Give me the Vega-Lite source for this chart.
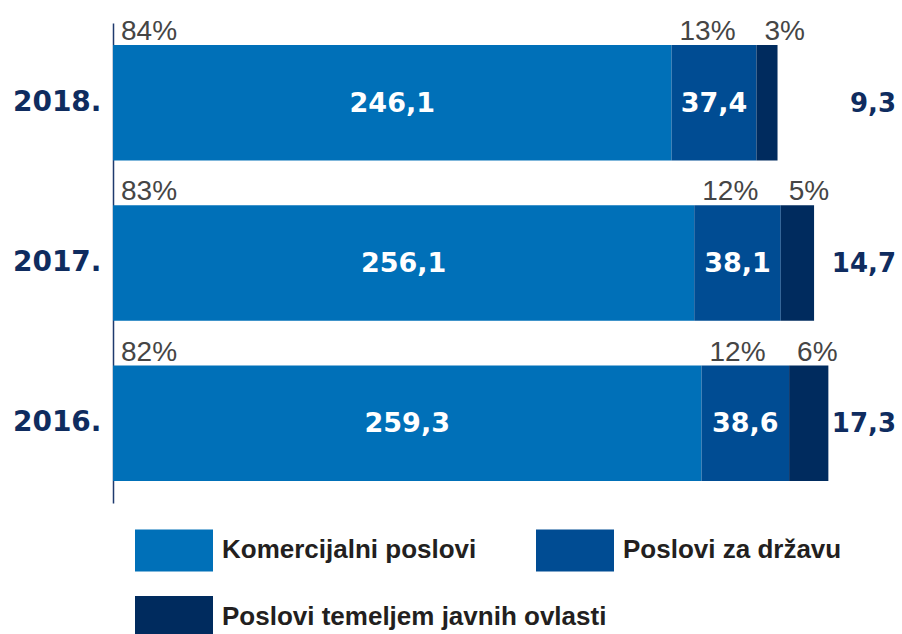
{
  "$schema": "https://vega.github.io/schema/vega-lite/v6.json",
  "width": 783,
  "height": 480,
  "autosize": {"type": "none"},
  "padding": {"left": 113, "top": 23, "right": 6, "bottom": 131},
  "background": "white",
  "config": {
    "view": {"stroke": null},
    "locale": {"number": {"decimal": ",", "thousands": ".", "grouping": [3], "currency": ["", " €"]}},
    "legend": {
      "title": null,
      "orient": "none",
      "direction": "horizontal",
      "symbolType": "M-1,-0.5385H1V0.5385H-1Z",
      "symbolSize": 6084,
      "symbolStrokeWidth": 0,
      "symbolOpacity": 1,
      "labelOffset": 9,
      "labelFont": "Liberation Sans",
      "labelFontWeight": "bold",
      "labelFontSize": 26,
      "labelColor": "#231f20",
      "labelLimit": 500
    }
  },
  "data": {
    "values": [
      {"year": "2018.", "category": "Komercijalni poslovi", "order": 1, "value": 246.1, "pct": 0.84},
      {"year": "2018.", "category": "Poslovi za državu", "order": 2, "value": 37.4, "pct": 0.13},
      {"year": "2018.", "category": "Poslovi temeljem javnih ovlasti", "order": 3, "value": 9.3, "pct": 0.03},
      {"year": "2017.", "category": "Komercijalni poslovi", "order": 1, "value": 256.1, "pct": 0.83},
      {"year": "2017.", "category": "Poslovi za državu", "order": 2, "value": 38.1, "pct": 0.12},
      {"year": "2017.", "category": "Poslovi temeljem javnih ovlasti", "order": 3, "value": 14.7, "pct": 0.05},
      {"year": "2016.", "category": "Komercijalni poslovi", "order": 1, "value": 259.3, "pct": 0.82},
      {"year": "2016.", "category": "Poslovi za državu", "order": 2, "value": 38.6, "pct": 0.12},
      {"year": "2016.", "category": "Poslovi temeljem javnih ovlasti", "order": 3, "value": 17.3, "pct": 0.06}
    ]
  },
  "transform": [
    {"stack": "value", "groupby": ["year"], "sort": [{"field": "order", "order": "ascending"}], "as": ["x0", "x1"]},
    {"calculate": "(datum.x0 + datum.x1) / 2", "as": "mid"}
  ],
  "encoding": {
    "y": {
      "field": "year",
      "type": "nominal",
      "sort": ["2018.", "2017.", "2016."],
      "scale": {"paddingInner": 0.28, "paddingOuter": 0.1375},
      "axis": {
        "title": null,
        "ticks": false,
        "grid": false,
        "domain": true,
        "domainColor": "#1f3a6e",
        "domainWidth": 1.5,
        "labelFont": "DejaVu Sans",
        "labelFontWeight": "bold",
        "labelFontSize": 28,
        "labelColor": "#0f2c5f",
        "labelPadding": 12
      }
    }
  },
  "layer": [
    {
      "transform": [{"filter": "datum.order < 3"}],
      "mark": {"type": "bar"},
      "encoding": {
        "x": {"field": "x0", "type": "quantitative", "scale": {"domain": [0, 345], "nice": false, "zero": true}, "axis": null},
        "x2": {"field": "x1"},
        "color": {
          "field": "category",
          "type": "nominal",
          "scale": {
            "domain": ["Komercijalni poslovi", "Poslovi za državu"],
            "range": ["#0070b8", "#004c93"]
          },
          "legend": {
            "legendX": 22,
            "legendY": 488,
            "columns": 2,
            "columnPadding": 59
          }
        }
      }
    },
    {
      "transform": [{"filter": "datum.order == 3"}],
      "mark": {"type": "bar"},
      "encoding": {
        "x": {"field": "x0", "type": "quantitative"},
        "x2": {"field": "x1"},
        "fill": {
          "field": "category",
          "type": "nominal",
          "scale": {
            "domain": ["Poslovi temeljem javnih ovlasti"],
            "range": ["#002b5e"]
          },
          "legend": {
            "legendX": 22,
            "legendY": 555
          }
        }
      }
    },
    {
      "transform": [{"filter": "datum.order < 3"}],
      "mark": {"type": "text", "color": "white", "font": "DejaVu Sans", "fontWeight": "bold", "fontSize": 27, "align": "center", "baseline": "middle", "dy": 1},
      "encoding": {
        "x": {"field": "mid", "type": "quantitative"},
        "text": {"field": "value", "type": "quantitative", "format": ".1f"}
      }
    },
    {
      "transform": [{"filter": "datum.order == 3"}],
      "mark": {"type": "text", "color": "#0f2c5f", "font": "DejaVu Sans", "fontWeight": "bold", "fontSize": 26, "align": "right", "baseline": "middle", "dy": 1},
      "encoding": {
        "x": {"datum": 345, "type": "quantitative"},
        "text": {"field": "value", "type": "quantitative", "format": ".1f"}
      }
    },
    {
      "mark": {"type": "text", "color": "#454545", "font": "Liberation Sans", "fontSize": 28, "align": "left", "baseline": "alphabetic", "dx": 8, "dy": -5},
      "encoding": {
        "x": {"field": "x0", "type": "quantitative"},
        "y": {"field": "year", "type": "nominal", "sort": ["2018.", "2017.", "2016."], "bandPosition": 0},
        "text": {"field": "pct", "type": "quantitative", "format": ".0%"}
      }
    }
  ]
}
